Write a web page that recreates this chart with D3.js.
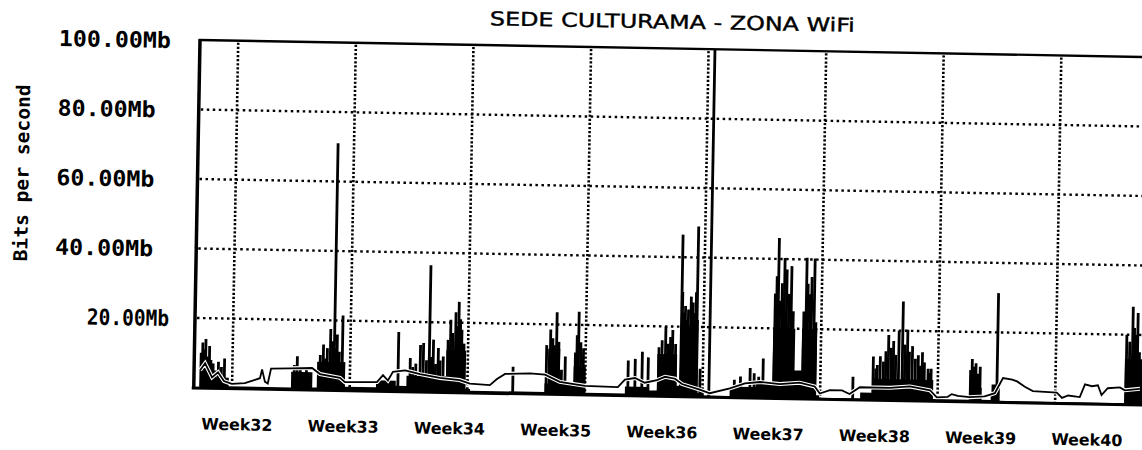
<!DOCTYPE html>
<meta charset="utf-8">
<head>
  <title>SEDE CULTURAMA - ZONA WiFi</title>
  <style>
    body { margin: 0; background: #fff; }
    svg { display: block; }
  </style>
</head>

<script src="https://d3js.org/d3.v7.min.js"></script>

<svg id="chart" width="1142" height="450"></svg>

<script>
// ---- data (x in days from the left edge, y in Mb/s) ----
var weekLabels = ["Week32", "Week33", "Week34", "Week35", "Week36", "Week37", "Week38", "Week39", "Week40"]
var weekLabelDays = [2.85, 9.85, 16.85, 23.85, 30.85, 37.85, 44.85, 51.85, 58.85]
var gridDays = [2.52, 10.27, 18.02, 25.77, 33.51, 41.26, 49.0, 56.75]
var yTicks = [100, 80, 60, 40, 20]
var yTickLabels = ["100.00Mb", "80.00Mb", "60.00Mb", "40.00Mb", "20.00Mb"]

// dense black body of the inbound traffic (step levels)
var inBody = [
  [0.4, 7], [1.2, 3], [2.3, 0.5], [6.4, 5], [7.8, 0.6], [8.1, 8], [9.95, 1],
  [12.0, 3], [13.3, 1.5], [14.0, 4.5], [16.6, 12], [17.9, 1], [18.2, 0.5],
  [23.1, 3], [23.3, 13], [24.1, 3], [25.0, 8], [25.8, 0.5], [28.4, 2.5],
  [30.0, 1.5], [30.5, 12], [31.8, 3], [32.0, 20], [33.15, 1], [33.6, 0.3],
  [35.3, 3], [37.0, 4], [38.1, 20], [39.55, 8], [40.0, 20], [41.0, 1], [41.2, 0.3],
  [43.9, 2], [44.7, 6], [48.7, 0.5], [51.1, 4], [51.9, 0.5], [52.5, 2], [53.0, 0.3],
  [61.3, 13], [62.5, 13]
]

// single spikes of the inbound traffic
var inPeaks = [
  [0.45, 10], [0.55, 13], [0.65, 11], [0.75, 14], [0.85, 9], [1.0, 12], [1.1, 8],
  [1.25, 7], [1.4, 5], [1.6, 7.5], [1.8, 6], [2.0, 8.5],
  [6.6, 7], [6.79, 9.5], [7.0, 6.5], [7.4, 6],
  [8.3, 10], [8.5, 13], [8.65, 9], [8.76, 12], [8.96, 17.5], [9.1, 14], [9.22, 71],
  [9.3, 12], [9.4, 16], [9.55, 11], [9.75, 21.5], [9.85, 8],
  [13.44, 17], [14.23, 9.6], [14.4, 7], [14.6, 8], [14.89, 13.4], [15.09, 14], [15.3, 9],
  [15.48, 36.4], [15.6, 10], [15.74, 15], [15.9, 8], [16.07, 12.6], [16.2, 9], [16.4, 10.2],
  [16.7, 15], [16.86, 20.8], [17.0, 17], [17.19, 23], [17.3, 19], [17.39, 26], [17.5, 21],
  [17.6, 18], [17.75, 14],
  [21.01, 7.6],
  [23.2, 14], [23.45, 18.5], [23.6, 16], [23.7, 14], [23.85, 23.5], [24.0, 15], [24.2, 7],
  [24.44, 10.8], [25.1, 12], [25.2, 17], [25.3, 23.8], [25.45, 15], [25.63, 13.3],
  [28.59, 10], [29.05, 10.5], [29.51, 12.6], [29.91, 11],
  [30.6, 14], [30.8, 16], [31.03, 20], [31.2, 15], [31.35, 17], [31.49, 19], [31.69, 15],
  [32.05, 46.5], [32.1, 30], [32.21, 24], [32.3, 26], [32.4, 22], [32.5, 25], [32.67, 28.7],
  [32.8, 27], [32.9, 24], [33.0, 30], [33.07, 48.9], [33.1, 22], [33.33, 8], [33.93, 100],
  [35.6, 5], [36.0, 6], [36.63, 8.5], [36.9, 7], [37.2, 6], [37.48, 11.3],
  [38.2, 30], [38.3, 35], [38.4, 46], [38.5, 28], [38.65, 33], [38.8, 40.3], [38.95, 37],
  [39.1, 30], [39.26, 38], [39.4, 25], [40.1, 25], [40.25, 40.5], [40.35, 33], [40.5, 30],
  [40.6, 35], [40.78, 40.3], [40.9, 22],
  [43.41, 6.5], [44.73, 12.4], [44.9, 9], [45.0, 10], [45.19, 12.5], [45.4, 11], [45.55, 14],
  [45.72, 18.7], [45.9, 15], [46.05, 17], [46.2, 13], [46.4, 20], [46.64, 28.4], [46.8, 16],
  [46.97, 20.3], [47.1, 14], [47.3, 15.6], [47.5, 12], [47.69, 13], [47.8, 10], [47.96, 13.9],
  [48.1, 11], [48.35, 9.2], [48.45, 8], [48.55, 9.2],
  [51.15, 9], [51.25, 12.2], [51.4, 10], [51.5, 11], [51.65, 8], [51.78, 10],
  [52.64, 5], [52.8, 5], [52.9, 31.3], [53.0, 4],
  [61.4, 20], [61.6, 18], [61.79, 28.1], [61.9, 22], [62.0, 20], [62.12, 26.3], [62.25, 15]
]

// outbound traffic, drawn as a thin line
var outLine = [
  [0.4, 5], [0.72, 7], [1.19, 3], [1.58, 4.5], [1.98, 2], [2.5, 1.2], [3.36, 1.5],
  [4.02, 2.5], [4.35, 3], [4.48, 5.5], [4.68, 2], [4.87, 1.5], [5.07, 5.8], [6.32, 6],
  [7.77, 6.2], [8.3, 4.5], [9.62, 3.5], [9.95, 2.3], [12.06, 2.5], [12.45, 4.5],
  [12.78, 3], [13.1, 5.5], [13.9, 6], [14.89, 5], [16.2, 4], [17.5, 3.5], [18.18, 2.5],
  [19.5, 2.2], [19.96, 4], [20.49, 5.5], [22.13, 5.8], [23.12, 5.5], [24.1, 3.5],
  [25.76, 2.5], [27.93, 2.3], [28.39, 4.5], [29.05, 5], [29.7, 3.7], [30.5, 4.5],
  [31.03, 5.5], [31.69, 5], [32.15, 3.5], [33.33, 2], [34.0, 1], [35.31, 2.5],
  [36.3, 4], [37.3, 4.5], [38.6, 4], [39.9, 4.5], [40.9, 3.5], [41.24, 1.5],
  [41.9, 2.5], [42.7, 2.5], [43.2, 1.5], [43.87, 3.5], [45.85, 3.5], [47.17, 4],
  [48.5, 3], [48.95, 1], [49.67, 1.2], [49.93, 2], [50.33, 1.5], [51.1, 1.2],
  [52.1, 1.5], [52.77, 2.5], [53.29, 6.9], [53.9, 6.5], [54.22, 6], [54.74, 4.5],
  [55.27, 3.3], [56.85, 3], [57.2, 1.5], [57.6, 2.2], [58.37, 1.8], [58.7, 5.5],
  [59.16, 5], [59.55, 5.3], [59.8, 2.5], [60.2, 4.5], [61.0, 4.8], [61.33, 4], [62.32, 4.5]
]

var svg = d3.select("#chart")

svg.append("rect").attr("width", 1142).attr("height", 450).attr("fill", "#fff")

// the scan is slightly tilted, so the whole sheet is rotated a bit
var sheet = svg.append("g").attr("transform", "rotate(1.03, 200, 40)")

var x = d3.scaleLinear().domain([0, 62.5]).range([200, 200 + 62.5 * 15.18])
var y = d3.scaleLinear().domain([0, 100]).range([387.5, 40])

// title
sheet.append("text")
  .attr("x", 672)
  .attr("y", 20)
  .attr("text-anchor", "middle")
  .attr("textLength", 365)
  .attr("lengthAdjust", "spacingAndGlyphs")
  .style("font-family", "DejaVu Sans, sans-serif")
  .style("font-size", "19px")
  .style("stroke", "#000")
  .style("stroke-width", 0.4)
  .text("SEDE CULTURAMA - ZONA WiFi")

// y axis title
sheet.append("text")
  .attr("transform", "translate(31, 176) rotate(-90)")
  .attr("text-anchor", "middle")
  .attr("textLength", 177)
  .attr("lengthAdjust", "spacingAndGlyphs")
  .style("font-family", "DejaVu Sans Mono, monospace")
  .style("font-weight", "bold")
  .style("font-size", "19px")
  .text("Bits per second")

// y labels
sheet.selectAll(".ylab")
  .data(yTicks)
  .enter().append("text")
  .attr("class", "ylab")
  .attr("x", d => d == 20 ? 92 : 59)
  .attr("y", d => y(d) + 8.5)
  .attr("textLength", (d, i) => d == 20 ? 82 : yTickLabels[i].length * 14)
  .attr("lengthAdjust", "spacingAndGlyphs")
  .style("font-family", "DejaVu Sans Mono, monospace")
  .style("font-weight", "bold")
  .style("font-size", "22px")
  .text((d, i) => yTickLabels[i])

// dotted grid
var grid = sheet.append("g").attr("name", "grid")
grid.selectAll(".hgrid")
  .data(yTicks.filter(d => d < 100))
  .enter().append("line")
  .attr("x1", 202).attr("x2", x(62.5))
  .attr("y1", d => y(d)).attr("y2", d => y(d))
  .attr("stroke", "#000")
  .attr("stroke-width", 2.4)
  .attr("stroke-dasharray", "2.5,3.5")

grid.selectAll(".vgrid")
  .data(gridDays)
  .enter().append("line")
  .attr("x1", d => x(d)).attr("x2", d => x(d))
  .attr("y1", y(100) + 2).attr("y2", y(0))
  .attr("stroke", "#000")
  .attr("stroke-width", 2.6)
  .attr("stroke-dasharray", "2.2,1.9")

// inbound traffic
var area = d3.area()
  .x(d => x(d[0]))
  .y0(y(0))
  .y1(d => y(d[1]))
  .curve(d3.curveStepAfter)

sheet.append("path")
  .datum(inBody)
  .attr("d", area)
  .attr("fill", "#000")

sheet.selectAll(".peak")
  .data(inPeaks)
  .enter().append("rect")
  .attr("class", "peak")
  .attr("x", d => x(d[0]) - 1.4)
  .attr("width", 2.8)
  .attr("y", d => y(d[1]))
  .attr("height", d => y(0) - y(d[1]))
  .attr("fill", "#000")

// outbound traffic
var line = d3.line().x(d => x(d[0])).y(d => y(d[1]))

sheet.append("path")
  .datum(outLine)
  .attr("d", line)
  .attr("fill", "none")
  .attr("stroke", "#fff")
  .attr("stroke-width", 4)

sheet.append("path")
  .datum(outLine)
  .attr("d", line)
  .attr("fill", "none")
  .attr("stroke", "#000")
  .attr("stroke-width", 1.8)

// frame
sheet.append("line")
  .attr("x1", 199).attr("x2", 1170).attr("y1", y(100)).attr("y2", y(100))
  .attr("stroke", "#000").attr("stroke-width", 2.4)
sheet.append("line")
  .attr("x1", 200).attr("x2", 200).attr("y1", y(100) - 1).attr("y2", y(0) + 1.5)
  .attr("stroke", "#000").attr("stroke-width", 3.5)
sheet.append("line")
  .attr("x1", 198).attr("x2", 1170).attr("y1", y(0) + 0.5).attr("y2", y(0) + 0.5)
  .attr("stroke", "#000").attr("stroke-width", 3)

// week labels
var xAxis = d3.axisBottom(x)
  .tickValues(weekLabelDays)
  .tickFormat((d, i) => weekLabels[i])
  .tickSize(0)

var xg = sheet.append("g")
  .attr("transform", "translate(0," + y(0) + ")")
  .call(xAxis)
xg.select(".domain").remove()
xg.selectAll("text")
  .attr("y", 42)
  .attr("dy", 0)
  .attr("fill", "#000")
  .attr("textLength", 71)
  .attr("lengthAdjust", "spacingAndGlyphs")
  .style("font-family", "DejaVu Sans, sans-serif")
  .style("font-weight", "bold")
  .style("font-size", "16px")
</script>
